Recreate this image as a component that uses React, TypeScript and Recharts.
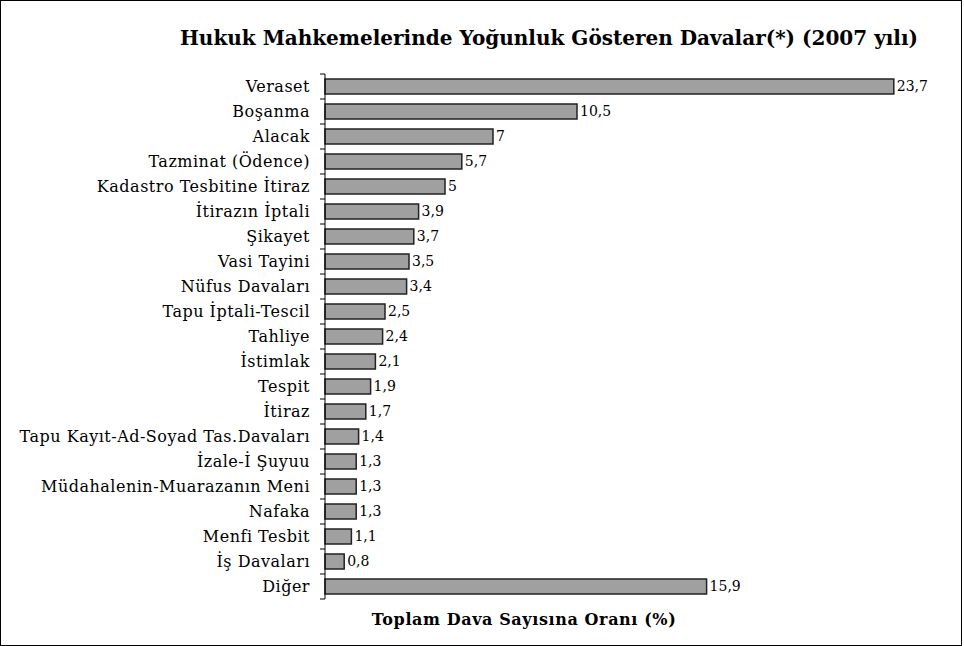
import { BarChart, Bar, XAxis, YAxis, LabelList } from 'recharts';

const categories = [
  'Veraset', 'Boşanma', 'Alacak', 'Tazminat (Ödence)', 'Kadastro Tesbitine İtiraz',
  'İtirazın İptali', 'Şikayet', 'Vasi Tayini', 'Nüfus Davaları', 'Tapu İptali-Tescil',
  'Tahliye', 'İstimlak', 'Tespit', 'İtiraz', 'Tapu Kayıt-Ad-Soyad Tas.Davaları',
  'İzale-İ Şuyuu', 'Müdahalenin-Muarazanın Meni', 'Nafaka', 'Menfi Tesbit', 'İş Davaları', 'Diğer',
];
const values = [23.7, 10.5, 7, 5.7, 5, 3.9, 3.7, 3.5, 3.4, 2.5, 2.4, 2.1, 1.9, 1.7, 1.4, 1.3, 1.3, 1.3, 1.1, 0.8, 15.9];

const title = 'Hukuk Mahkemelerinde Yoğunluk Gösteren Davalar(*) (2007 yılı)';
const xTitle = 'Toplam Dava Sayısına Oranı (%)';

const data = categories.map((name, i) => ({ name, value: values[i] }));

const SERIF = "'DejaVu Serif', serif";
const TOP = 73;
const BOTTOM = 46;
const HEIGHT = 644;
const band = (HEIGHT - TOP - BOTTOM) / categories.length;

// label in the band centre, tick marks on the band edges (like Excel)
function CatTick(props: any) {
  const { x, y, payload, index } = props;
  const axisX = x + 15;
  return (
    <g>
      <line x1={axisX - 5} x2={axisX} y1={y - band / 2} y2={y - band / 2} stroke="#000" />
      {index === categories.length - 1 && (
        <line x1={axisX - 5} x2={axisX} y1={y + band / 2} y2={y + band / 2} stroke="#000" />
      )}
      <text
        x={x} y={y} dy={5} textAnchor="end" fontFamily={SERIF} fontSize={16}
        letterSpacing={0.5} fill="#000"
      >
        {payload.value}
      </text>
    </g>
  );
}

export default function App() {
  return (
    <div
      style={{
        position: 'absolute', left: 0, top: 0, width: 960, height: HEIGHT,
        border: '1px solid #000', background: '#fff', fontFamily: SERIF,
      }}
    >
      <div
        style={{
          position: 'absolute', left: 0, width: 1096, top: 25, textAlign: 'center',
          fontWeight: 'bold', fontSize: 20, color: '#000', whiteSpace: 'nowrap',
        }}
      >
        {title}
      </div>
      <BarChart
        layout="vertical"
        width={960}
        height={HEIGHT}
        data={data}
        margin={{ top: TOP, right: 36, bottom: BOTTOM, left: 0 }}
        barCategoryGap="20%"
      >
        <XAxis type="number" domain={[0, 25]} hide />
        <YAxis
          type="category"
          dataKey="name"
          width={324}
          axisLine={{ stroke: '#000' }}
          tickLine={false}
          tickSize={5}
          tickMargin={10}
          interval={0}
          tick={<CatTick />}
        />
        <Bar dataKey="value" fill="#a0a0a0" stroke="#222" strokeWidth={1.5} isAnimationActive={false}>
          <LabelList
            dataKey="value"
            position="right"
            offset={3}
            formatter={(v: any) => String(v).replace('.', ',')}
            style={{ fontFamily: SERIF, fontSize: 14, fill: '#000' }}
          />
        </Bar>
      </BarChart>
      <div
        style={{
          position: 'absolute', left: 0, width: 1046, top: 609, textAlign: 'center',
          fontWeight: 'bold', fontSize: 16, letterSpacing: 0.6, color: '#000', whiteSpace: 'nowrap',
        }}
      >
        {xTitle}
      </div>
    </div>
  );
}
